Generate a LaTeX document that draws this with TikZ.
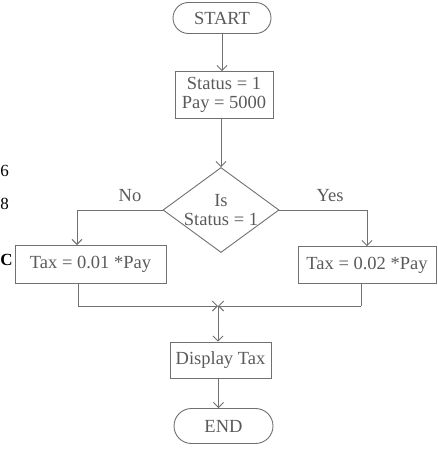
\documentclass[tikz,border=0pt]{standalone}
\usepackage{fontspec}
\setmainfont{Liberation Serif}
\usetikzlibrary{shapes.geometric,shapes.misc,arrows.meta}
\definecolor{ink}{HTML}{5A5A5A}
\definecolor{edge}{HTML}{707070}
\begin{document}
\begin{tikzpicture}[x=1pt,y=-1pt,
  every node/.style={text=ink,font=\fontsize{18.5}{19}\selectfont},
  term/.style={draw=edge,line width=0.9pt,rounded rectangle,inner sep=0pt},
  procbox/.style={draw=edge,line width=0.9pt,rectangle,inner sep=0pt,align=center},
  decision/.style={draw=edge,line width=0.9pt,diamond,inner sep=0pt},
  conn/.style={draw=edge,line width=0.9pt,-{Straight Barb[length=5pt,width=10pt]}},
  plainline/.style={draw=edge,line width=0.9pt},
  frag/.style={text=black,font=\fontsize{17}{18}\selectfont,inner sep=0pt,anchor=west}]
\useasboundingbox (0,0) rectangle (437,452);

% fragments at left edge
\node[frag] (f1) at (0.3,171) {6};
\node[frag] (f2) at (0.3,204) {8};
\node[frag,font=\fontsize{17}{18}\selectfont\bfseries] (f3) at (0.3,260) {C};

\node[term,minimum width=98pt,minimum height=31pt] (start) at (222,18) {START};
\node[procbox,minimum width=98pt,minimum height=47pt] (set) at (224,95) {Status = 1\\Pay = 5000};
\node[decision,minimum width=116pt,minimum height=85pt,
      label={[align=center,text=ink,font=\fontsize{18.5}{19}\selectfont]center:Is\\Status = 1}] (dec) at (221,210) {};
\node (no) at (130,196) {No};
\node (yes) at (330,196) {Yes};
\node[procbox,minimum width=151pt,minimum height=38pt] (left) at (90.5,264) {Tax = 0.01 *Pay};
\node[procbox,minimum width=138pt,minimum height=37pt] (right) at (367,265) {Tax = 0.02 *Pay};
\node[procbox,minimum width=101pt,minimum height=36pt] (disp) at (220.5,360) {Display Tax};
\node[term,minimum width=99pt,minimum height=35pt] (end) at (223.5,426) {END};

\coordinate (lin) at (77,245);
\coordinate (lout) at (78,283);
\coordinate (rout) at (361,283.5);
\coordinate (m) at (218,306);
\coordinate (lm) at (78,306);
\coordinate (rm) at (361,306);

\draw[conn] (start.south -| set.north) ++(-2,0) coordinate (s1) -- (s1 |- set.north);
\draw[conn] (set.south) ++(-3,0) coordinate (s2) -- (s2 |- dec.north);
\draw[conn] (dec.west) -| (lin);
\draw[conn] (dec.east) -| (right.north);
\draw[plainline] (lout) -- (lm);
\draw[conn] (lm) -- (m);
\draw[plainline] (rout) -- (rm);
\draw[conn] (rm) -- (m);
\draw[conn] (m) -- (m |- disp.north);
\draw[conn] (disp.south) ++(-2,0) coordinate (d1) -- (d1 |- end.north);
\end{tikzpicture}
\end{document}
